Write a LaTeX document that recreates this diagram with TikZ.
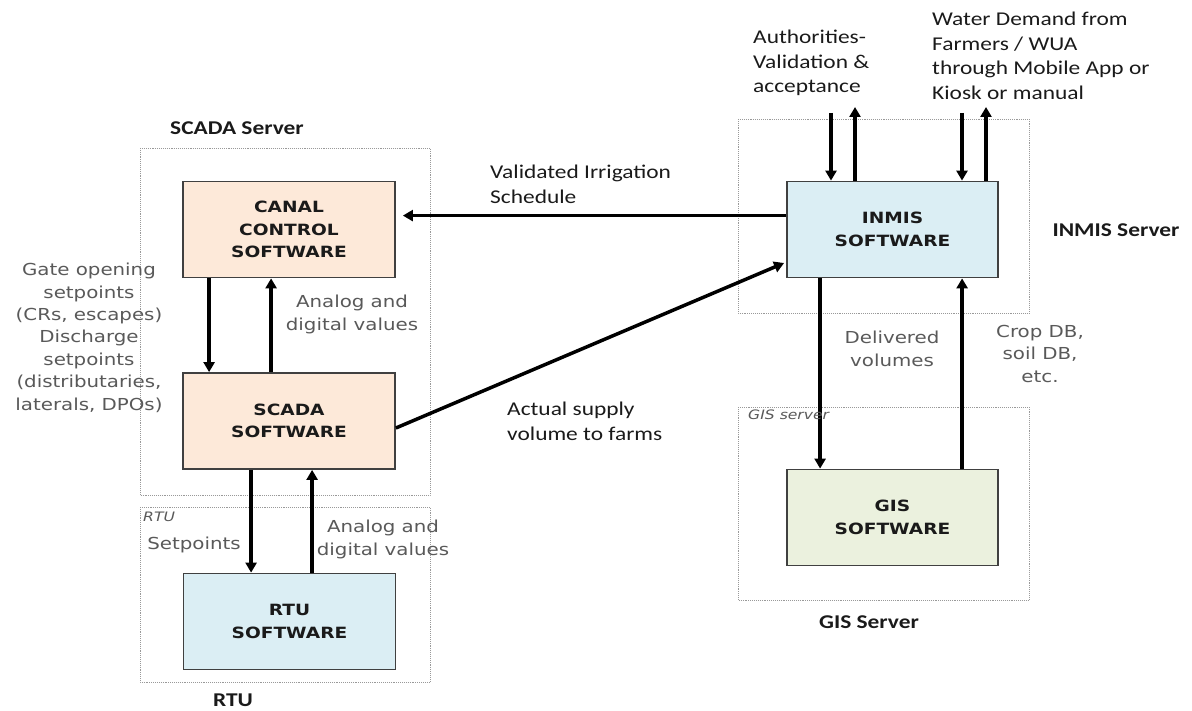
\documentclass[tikz,border=0pt]{standalone}
\usepackage{fontspec}
\setmainfont[FakeStretch=1.2]{Carlito}
\newfontfamily\vfont[FakeStretch=1.2]{DejaVu Sans}
\usetikzlibrary{arrows.meta}
\definecolor{peach}{HTML}{FDE9D9}
\definecolor{lblue}{HTML}{DBEEF4}
\definecolor{lgreen}{HTML}{EBF1DE}
\definecolor{boxline}{HTML}{404040}
\definecolor{gtext}{HTML}{595959}
\definecolor{txt}{HTML}{1A1A1A}
\begin{document}
\begin{tikzpicture}[x=1pt,y=-1pt,
  box/.style={draw=boxline, line width=1.8pt, inner sep=0pt, align=center,
    font=\vfont\bfseries\fontsize{15.5}{22.5}\selectfont, text=txt,
    minimum width=212pt, minimum height=96pt},
  grp/.style={draw=gray!80, densely dotted, line width=0.9pt},
  lbl/.style={font=\fontsize{19.5}{24.5}\selectfont, inner sep=0pt, align=left, text=txt},
  ttl/.style={font=\bfseries\fontsize{19.5}{24.5}\selectfont, inner sep=0pt, text=txt},
  gtxt/.style={font=\vfont\fontsize{16.5}{22.4}\selectfont, inner sep=0pt, align=center, text=gtext},
  itx/.style={font=\vfont\itshape\fontsize{13}{15}\selectfont, inner sep=0pt, text=gtext},
  arr/.style={line width=3.5pt, -{Triangle[length=10pt,width=11pt]}}
]
\useasboundingbox (0,0) rectangle (1192,711);

% group frames
\draw[grp] (140,148) rectangle (430,495);
\draw[grp] (140,507) rectangle (430,682);
\draw[grp] (738,119) rectangle (1029,313);
\draw[grp] (738,407) rectangle (1029,600);

% boxes
\node[box, fill=peach] (canal) at (289,229.5) {CANAL\\CONTROL\\SOFTWARE};
\node[box, fill=peach] (scada) at (289,421) {SCADA\\SOFTWARE};
\node[box, fill=lblue] (rtu) at (289.5,621.5) {RTU\\SOFTWARE};
\node[box, fill=lblue, minimum width=211pt] (inmis) at (892.5,229.5) {INMIS\\SOFTWARE};
\node[box, fill=lgreen, minimum width=211pt] (gis) at (892.5,517.5) {GIS\\SOFTWARE};

% free ends on top
\coordinate (authin) at (831,113);
\coordinate (authout) at (855,107);
\coordinate (wdin) at (962,113);
\coordinate (wdout) at (986,107);

% connectors
\draw[arr] ([xshift=27pt]canal.south west) -- ([xshift=27pt]scada.north west);
\draw[arr] ([xshift=89pt]scada.north west) -- ([xshift=89pt]canal.south west);
\draw[arr] ([xshift=69pt]scada.south west) -- ([xshift=69pt]scada.south west |- rtu.north);
\draw[arr] ([xshift=130pt]scada.south west |- rtu.north) -- ([xshift=130pt]scada.south west);
\draw[arr] ([yshift=-35pt]inmis.north west) -- ([xshift=7pt,yshift=-35pt]canal.north east);
\draw[arr] ([yshift=-7pt]scada.east) -- ([xshift=-2pt,yshift=-33.5pt]inmis.west);
\draw[arr] ([xshift=34pt]inmis.south west) -- ([xshift=34pt]gis.north west);
\draw[arr] ([xshift=176pt]gis.north west) -- ([xshift=176pt]inmis.south west);
\draw[arr] (authin) -- (authin |- inmis.north);
\draw[arr] (authout |- inmis.north) -- (authout);
\draw[arr] (wdin) -- (wdin |- inmis.north);
\draw[arr] (wdout |- inmis.north) -- (wdout);

% labels
\node[lbl, anchor=north west] (auth) at (753,30) {Authorities-\\Validation \&\\acceptance};
\node[lbl, anchor=north west] (wd) at (932,12) {Water Demand from\\Farmers / WUA\\through Mobile App or\\Kiosk or manual};
\node[lbl, anchor=north west] (vis) at (490,165) {Validated Irrigation\\Schedule};
\node[lbl, anchor=north west] (asv) at (507,402) {Actual supply\\volume to farms};

\node[gtxt, anchor=north] (gate) at (89,263) {Gate opening\\setpoints\\(CRs, escapes)\\Discharge\\setpoints\\(distributaries,\\laterals, DPOs)};
\node[gtxt, anchor=north] (adv1) at (352,295) {Analog and\\digital values};
\node[gtxt, anchor=north] (sp) at (194,537) {Setpoints};
\node[gtxt, anchor=north] (adv2) at (383,520) {Analog and\\digital values};
\node[gtxt, anchor=north] (dv) at (892,331) {Delivered\\volumes};
\node[gtxt, anchor=north] (crop) at (1040,325) {Crop DB,\\soil DB,\\etc.};

\node[ttl, anchor=north] (t1) at (237,122) {SCADA Server};
\node[ttl, anchor=north] (t2) at (233,694) {RTU};
\node[ttl, anchor=north] (t3) at (1116,224) {INMIS Server};
\node[ttl, anchor=north] (t4) at (869,616) {GIS Server};

\node[itx, anchor=north west] (i1) at (748,410) {GIS server};
\node[itx, anchor=north west] (i2) at (143,512) {RTU};
\end{tikzpicture}
\end{document}
